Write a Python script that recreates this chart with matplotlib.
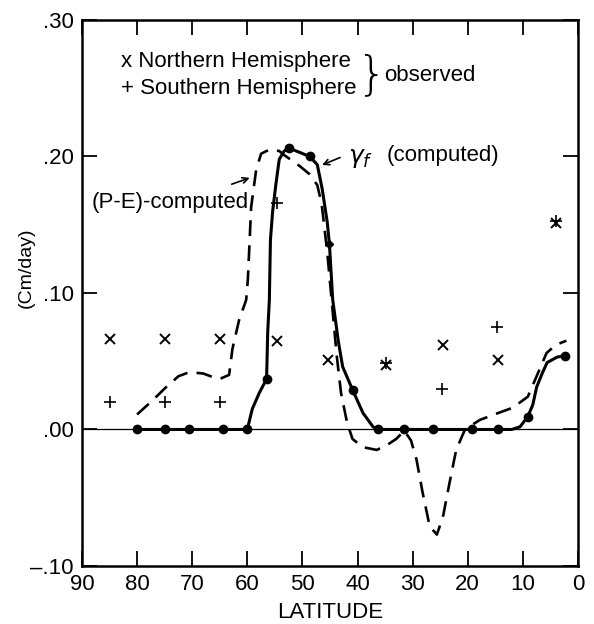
import numpy as np
import matplotlib.pyplot as plt

plt.rcParams['font.family'] = ['Liberation Sans', 'DejaVu Sans']

# gamma_f (computed) - solid curve, traced points
gam_lat = [80, 75, 70.5, 64.5, 60, 59.1, 57.8, 56.5, 56.3, 56.0, 55.8, 55.4, 54.8, 54.2,
           53.3, 52.4, 50.5, 48.7, 47.3, 46.4, 45.5, 45.1, 44.5, 43.5, 42.7, 40.9,
           39.0, 37.2, 36.2, 31.5, 26.3, 19.3, 14.5, 12.0, 10.5, 9.1, 8.2, 7.5,
           6.5, 5.6, 3.8, 2.4]
gam_val = [0.0, 0.0, 0.0, 0.0, 0.0, 0.015, 0.027, 0.037, 0.071, 0.095, 0.139, 0.160, 0.180, 0.198,
           0.204, 0.206, 0.203, 0.200, 0.194, 0.176, 0.152, 0.136, 0.095, 0.065, 0.046, 0.029,
           0.012, 0.002, 0.0, 0.0, 0.0, 0.0, 0.0, 0.0, 0.002, 0.0095, 0.018, 0.031,
           0.041, 0.049, 0.053, 0.054]
# dots on gamma_f curve
dot_lat = [80, 75, 70.5, 64.5, 60, 56.5, 52.4, 48.7, 40.9, 36.2, 31.5, 26.3, 19.3, 14.5, 9.1, 2.4]
dot_val = [0.0, 0.0, 0.0, 0.0, 0.0, 0.037, 0.206, 0.200, 0.029, 0.0, 0.0, 0.0, 0.0, 0.0, 0.0095, 0.054]
dia_lat = [45.1]
dia_val = [0.136]

# (P-E)-computed - dashed curve
pe_lat = [80, 77, 75, 72.5, 70.5, 68, 66, 65, 63.3, 62.7, 61.5, 60.2, 59.9, 59.3, 58.4,
          57.5, 56.0, 54.2, 53.3, 50.5, 48.7, 47.3, 46.5, 45.5, 44.7, 43.8, 43.0, 41.9,
          40.9, 39.0, 36.5, 34.5, 33.0, 31.5, 30.3, 29.3, 28.2, 26.9, 25.6, 24.5, 23.3,
          22.1, 20.5, 17.8, 14.5, 11.8, 9.1, 7.5, 5.7, 4.0, 2.1]
pe_val = [0.011, 0.022, 0.030, 0.039, 0.042, 0.041, 0.038, 0.037, 0.040, 0.059, 0.080, 0.095, 0.110, 0.163, 0.190,
          0.202, 0.205, 0.204, 0.201, 0.193, 0.187, 0.179, 0.165, 0.130, 0.095, 0.055, 0.027, 0.005,
          -0.007, -0.013, -0.015, -0.011, -0.007, -0.001, -0.008, -0.022, -0.046, -0.071, -0.077, -0.064, -0.039,
          -0.015, 0.0, 0.007, 0.012, 0.016, 0.024, 0.039, 0.056, 0.062, 0.065]

# observed
nh_lat = [85, 75, 65, 54.7, 45.3, 34.8, 24.5, 14.5, 4.0]
nh_val = [0.066, 0.066, 0.066, 0.065, 0.051, 0.047, 0.062, 0.051, 0.151]
sh_lat = [85, 75, 65, 54.7, 34.8, 24.7, 14.7, 4.0]
sh_val = [0.020, 0.020, 0.020, 0.166, 0.049, 0.030, 0.075, 0.153]

yticks = [-0.10, 0.0, 0.10, 0.20, 0.30]
ylabels = ['\u2013.10', '.00', '.10', '.20', '.30']
xticks = [90, 80, 70, 60, 50, 40, 30, 20, 10, 0]

fig = plt.figure(figsize=(5.94, 6.24), dpi=100)
ax = fig.add_axes([0.138, 0.093, 0.835, 0.875])

ax.axhline(0, color='black', lw=0.9, zorder=1)
ax.plot(gam_lat, gam_val, color='black', lw=2.2, solid_capstyle='round', zorder=3)
ax.plot(dot_lat, dot_val, 'o', color='black', ms=6, zorder=4)
ax.plot(dia_lat, dia_val, 'D', color='black', ms=4.5, zorder=4)
ax.plot(pe_lat, pe_val, color='black', lw=1.9, dashes=(6, 3.5), zorder=2)

ax.plot(nh_lat, nh_val, 'x', color='black', ms=7, mew=1.4, zorder=5)
ax.plot(sh_lat, sh_val, '+', color='black', ms=8, mew=1.2, zorder=5)

ax.set_xlim(90, 0)
ax.set_ylim(-0.10, 0.30)
ax.set_xticks(xticks)
ax.set_xticklabels([str(t) for t in xticks], fontsize=16)
ax.set_yticks(yticks)
ax.set_yticklabels(ylabels, fontsize=16)
ax.tick_params(direction='in', length=11, width=1.3, top=True, right=True, pad=6)
for s in ax.spines.values():
    s.set_linewidth(1.8)

ax.set_xlabel('LATITUDE', fontsize=16, labelpad=5)
ax.set_ylabel('(Cm/day)', fontsize=14)
ax.yaxis.set_label_coords(-0.096, 0.546)

# legend-like text
ax.text(82.9, 0.2695, 'x Northern Hemisphere', fontsize=16, va='center', ha='left')
ax.text(82.9, 0.2495, '+ Southern Hemisphere', fontsize=16, va='center', ha='left')
ax.text(37.3, 0.2595, '}', fontsize=34, va='center', ha='center',
        fontweight='light', family='DejaVu Sans')
ax.text(35.1, 0.2595, 'observed', fontsize=16, va='center', ha='left')

ax.annotate('', xy=(59.1, 0.185), xytext=(63.3, 0.179),
            arrowprops=dict(arrowstyle='->', color='black', lw=1.2))
ax.text(88.2, 0.166, '(P-E)-computed', fontsize=16, va='center', ha='left')

ax.annotate('', xy=(46.9, 0.193), xytext=(42.7, 0.200),
            arrowprops=dict(arrowstyle='->', color='black', lw=1.2))
ax.text(41.8, 0.199, r'$\gamma_f$', fontsize=18, va='center', ha='left')
ax.text(34.7, 0.2005, '(computed)', fontsize=16, va='center', ha='left')

fig.savefig('out.png', dpi=100)
